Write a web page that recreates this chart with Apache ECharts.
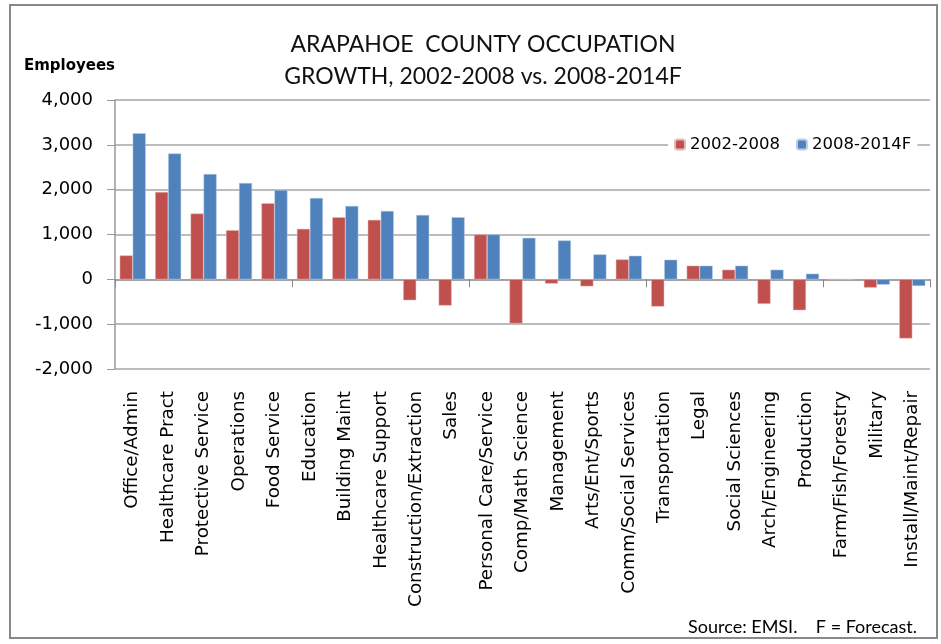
<!DOCTYPE html>
<html>
<head>
<meta charset="utf-8">
<script src="https://cdn.jsdelivr.net/npm/echarts@6/dist/echarts.min.js"></script>
<style>
html,body{margin:0;padding:0;background:#fff;}
#chart{width:941px;height:644px;}
</style>
</head>
<body>
<div id="chart"></div>
<script>
var categories = ['Office/Admin','Healthcare Pract','Protective Service','Operations','Food Service','Education','Building Maint','Healthcare Support','Construction/Extraction','Sales','Personal Care/Service','Comp/Math Science','Management','Arts/Ent/Sports','Comm/Social Services','Transportation','Legal','Social Sciences','Arch/Engineering','Production','Farm/Fish/Forestry','Military','Install/Maint/Repair'];
var growth0208 = [533,1948,1467,1096,1696,1126,1385,1326,-467,-585,1000,-985,-96,-156,444,-607,304,215,-548,-689,0,-185,-1319];
var growth0814 = [3259,2807,2348,2148,1993,1815,1637,1526,1437,1385,1000,926,867,556,526,437,304,304,215,126,0,-119,-148];
var seriesNames = ['2002-2008','2008-2014F'];

var chart = echarts.init(document.getElementById('chart'));
var font = 'DejaVu Sans';

var option = {
	backgroundColor: '#fff',
	animation: false,
	title: {
		text: 'ARAPAHOE  COUNTY OCCUPATION\nGROWTH, 2002-2008 vs. 2008-2014F',
		left: 478,
		textAlign: 'center',
		top: 24,
		textStyle: {fontFamily: 'Lato', fontWeight: 'normal', fontSize: 23, lineHeight: 32, color: '#111'}
	},
	legend: {
		data: seriesNames,
		left: 668,
		top: 133,
		itemWidth: 10,
		itemHeight: 10,
		itemGap: 16,
		padding: [3, 6],
		backgroundColor: '#fff',
		textStyle: {fontFamily: font, fontSize: 16.5, color: '#000'}
	},
	grid: {left: 115, right: 11, top: 100, bottom: 275},
	xAxis: [{
		type: 'category',
		data: categories,
		axisLine: {show: false, onZero: false},
		axisTick: {show: false},
		axisLabel: {interval: 0, rotate: 90, margin: 22, fontFamily: font, fontSize: 18.3, color: '#000'}
	}, {
		type: 'category',
		data: categories,
		position: 'bottom',
		axisLine: {onZero: true, lineStyle: {color: '#999', width: 1.5}},
		axisTick: {show: true, length: 8, lineStyle: {color: '#888'}},
		axisLabel: {show: false}
	}],
	yAxis: {
		type: 'value',
		min: -2000,
		max: 4000,
		interval: 1000,
		name: 'Employees',
		nameLocation: 'end',
		nameGap: 26,
		nameTextStyle: {fontFamily: font, fontWeight: 'bold', fontSize: 15, color: '#000', align: 'right', padding: [0, 0, 0, 0]},
		axisLine: {show: true, lineStyle: {color: '#999', width: 1.5}},
		axisTick: {show: true, length: 8, lineStyle: {color: '#999'}},
		splitLine: {lineStyle: {color: '#a6a6a6', width: 1.5}},
		axisLabel: {
			margin: 22,
			fontFamily: font, fontSize: 18, color: '#000',
			formatter: function (v) { return v.toLocaleString('en-US'); }
		}
	},
	series: [{
		name: seriesNames[0],
		type: 'bar',
		data: growth0208,
		barWidth: 13,
		barGap: '0%',
		itemStyle: {color: '#C0504D', borderColor: '#e6b8b7', borderWidth: 0.5}
	}, {
		name: seriesNames[1],
		type: 'bar',
		data: growth0814,
		barWidth: 13,
		barGap: '0%',
		itemStyle: {color: '#4F81BD', borderColor: '#b9cde5', borderWidth: 0.5}
	}],
	graphic: [{
		type: 'rect',
		shape: {x: 10, y: 5, width: 927, height: 633},
		style: {fill: null, stroke: '#888', lineWidth: 2},
		silent: true
	}, {
		type: 'text',
		right: 24,
		top: 618,
		style: {text: 'Source: EMSI.    F = Forecast.', font: '18px Lato', fill: '#000'}
	}]
};
chart.setOption(option);
</script>
</body>
</html>
